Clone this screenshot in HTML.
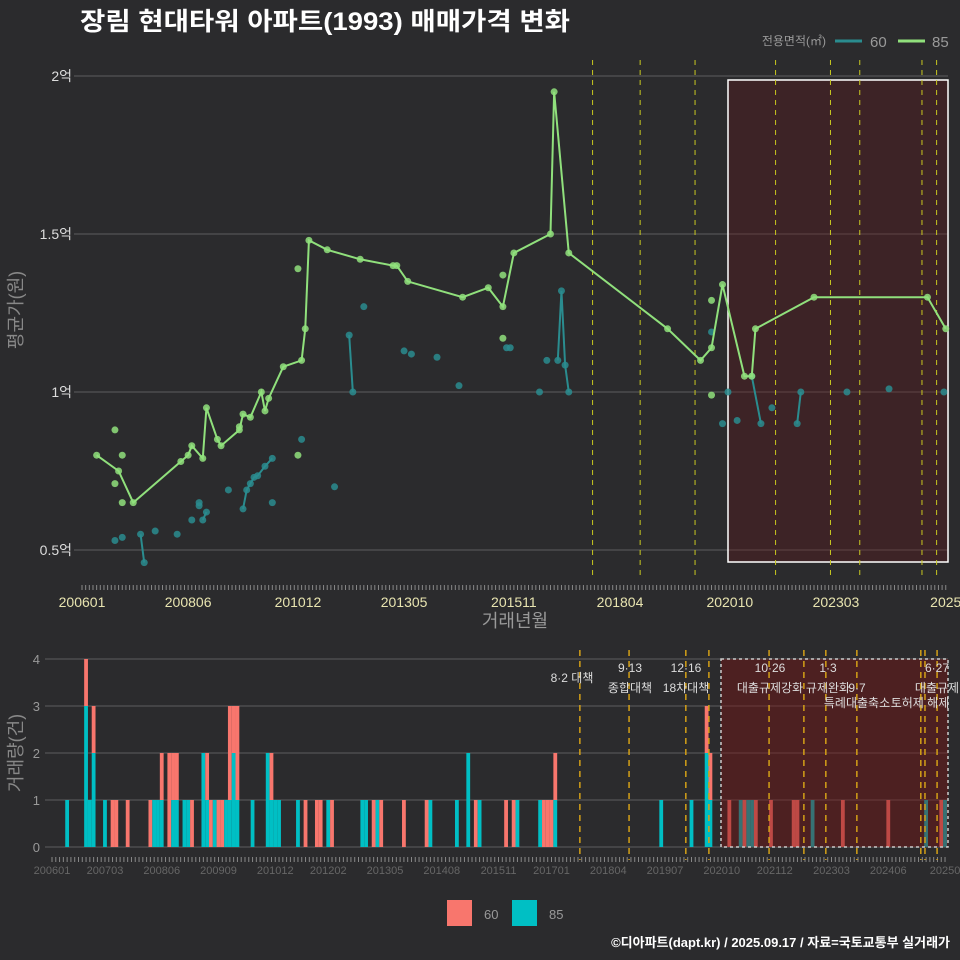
<!DOCTYPE html>
<html><head><meta charset="utf-8"><style>
html,body{margin:0;padding:0;background:#2b2b2d;}
svg{display:block;font-family:"Liberation Sans","Noto Sans CJK KR",sans-serif;}
</style></head><body>
<svg id="chart" width="960" height="960" viewBox="0 0 960 960" xmlns="http://www.w3.org/2000/svg">
<rect x="0" y="0" width="960" height="960" fill="#2b2b2d"/>
<text x="80" y="30" fill="#ffffff" font-size="25" font-weight="bold" textLength="490" lengthAdjust="spacingAndGlyphs">장림 현대타워 아파트(1993) 매매가격 변화</text>
<g>
<text x="826" y="45" fill="#999" font-size="12" text-anchor="end">전용면적(㎡)</text>
<line x1="835" y1="41" x2="862" y2="41" stroke="#2a8c8f" stroke-width="3"/>
<text x="870" y="47" fill="#999" font-size="15">60</text>
<line x1="898" y1="41" x2="925" y2="41" stroke="#90e07c" stroke-width="3"/>
<text x="932" y="47" fill="#999" font-size="15">85</text>
</g>
<g id="topPlot"></g>
<g id="botPlot"></g>
<text x="515" y="627" fill="#999" font-size="18" text-anchor="middle">거래년월</text>
<text transform="translate(22,310) rotate(-90)" fill="#888" font-size="18" text-anchor="middle">평균가(원)</text>
<text transform="translate(22,753) rotate(-90)" fill="#888" font-size="18" text-anchor="middle">거래량(건)</text>
<g>
<rect x="447" y="900" width="25" height="26" fill="#f8766d"/>
<text x="484" y="919" fill="#999" font-size="13">60</text>
<rect x="512" y="900" width="25" height="26" fill="#00bfc4"/>
<text x="549" y="919" fill="#999" font-size="13">85</text>
</g>
<text x="950" y="947" fill="#fff" font-size="13" font-weight="bold" text-anchor="end">©디아파트(dapt.kr) / 2025.09.17 / 자료=국토교통부 실거래가</text>
</svg>
<script>
// ---- price data (month index from 2006-01, price in 억) ----
const line85M=[4,10,14,27,29,30,33,34,37,38,43,44,46,49,50,51,55,60,61,62,67,76,85,86,89,104,111,115,118,128,129,133,160,169,172,175,181,183,184,200,231,236];
const line85P=[0.80,0.75,0.65,0.78,0.80,0.83,0.79,0.95,0.85,0.83,0.88,0.93,0.92,1.00,0.94,0.98,1.08,1.10,1.20,1.48,1.45,1.42,1.40,1.40,1.35,1.30,1.33,1.27,1.44,1.50,1.95,1.44,1.20,1.10,1.14,1.34,1.05,1.05,1.20,1.30,1.30,1.20];
const pts85M=[9,11,9,11,59,59,115,115,172,172,43];
const pts85P=[0.88,0.80,0.71,0.65,1.39,0.80,1.37,1.17,1.29,0.99,0.89];
const seg60M=[[16,17],[33,34],[44,45,46,47,48,50,52],[73,74],[130,131,132,133],[183,185.5],[195.4,196.4]];
const seg60P=[[0.55,0.46],[0.595,0.62],[0.63,0.69,0.71,0.73,0.735,0.765,0.79],[1.18,1.00],[1.10,1.32,1.085,1.00],[1.05,0.90],[0.90,1.00]];
const pts60M=[9,11,20,26,30,32,32,40,52,60,69,77,88,90,97,103,116,117,125,127,175,172,176.5,179,188.5,209,220.5,235.5];
const pts60P=[0.53,0.54,0.56,0.55,0.595,0.65,0.64,0.69,0.65,0.85,0.70,1.27,1.13,1.12,1.11,1.02,1.14,1.14,1.00,1.10,0.90,1.19,1.00,0.91,0.95,1.00,1.01,1.00];
const yTicks=[0.5,1,1.5,2];
const yTickLabels=["0.5억","1억","1.5억","2억"];
const xTickMonths=[0,29,59,88,118,147,177,206,236];
const xTickLabels=["200601","200806","201012","201305","201511","201804","202010","202303","2025"];
const policyTop=[139.5,152.5,167.5,189.5,204.5,212.5,229.5,233.5];
// ---- volume data ----
const barM=[4,9,10,11,14,16,17,20,26,27,28,29,31,32,33,35,36,37,40,41,42,43,44,45,46,47,48,49,53,57,58,59,60,65,67,70,71,73,74,82,83,85,86,87,93,99,100,107,110,112,113,120,122,123,129,130,131,132,133,161,169,173,174,179,182,183,184,185,186,190,196,197,201,209,221,231,235,236];
const bar85=[1,3,1,2,1,0,0,0,0,1,1,1,0,1,1,1,1,0,2,1,0,1,0,0,1,1,2,1,1,2,1,1,1,1,0,0,0,1,0,1,1,0,1,0,0,0,1,1,2,0,1,0,0,1,1,0,0,0,1,1,1,2,1,0,1,0,1,1,0,0,0,0,1,0,0,1,0,1];
const bar60=[0,1,0,1,0,1,1,1,1,0,0,1,2,1,1,0,0,1,0,1,1,0,1,1,0,2,1,2,0,0,1,0,0,0,1,1,1,0,1,0,0,1,0,1,1,1,0,0,0,1,0,1,1,0,0,1,1,1,1,0,0,1,1,1,0,1,0,0,1,1,1,1,0,1,1,0,1,0];
const bTicks=[0,1,2,3,4];
const bxTickMonths=[0,14,29,44,59,73,88,103,118,132,147,162,177,191,206,221,236];
const bxTickLabels=["200601","200703","200806","200909","201012","201202","201305","201408","201511","201701","201804","201907","202010","202112","202303","202406","20250"];
const policyBot=[139.5,152.5,167.5,173.6,189.5,198.7,204.5,212.7,229.6,230.7,233.9];
const notes=[["8·2 대책",572,682],["9·13",630,672],["종합대책",630,692],["12·16",686,672],["18차대책",686,692],["10·26",770,672],["대출규제강화",770,692],["1·3",828,672],["규제완화",828,692],["9·7",857,692],["특례대출축소",857,707],["토허제 해제",920,707],["6·27",937,672],["대출규제",937,692]];

const NS="http://www.w3.org/2000/svg";
function mk(parent,tag,attrs){const e=document.createElementNS(NS,tag);for(const k in attrs)e.setAttribute(k,attrs[k]);parent.appendChild(e);return e;}
const X=m=>82+m*3.66, Y=p=>76+(2-p)*316;
const XB=m=>52+m*3.784, YB=c=>847-c*47;
const gTop=document.getElementById('topPlot'), gBot=document.getElementById('botPlot');

// top grid
yTicks.forEach((v,i)=>{
  let g=mk(gTop,'line',{x1:74,x2:948,y1:Y(v),y2:Y(v),stroke:'#5e5e60','stroke-width':1});
  
  
  let t=mk(gTop,'text',{x:72,y:Y(v)+5,fill:'#ddd','font-size':14,'text-anchor':'end'});
  t.textContent=yTickLabels[i];
  
  
});
let sh=mk(gTop,'rect',{x:728,y:80,width:220,height:482,fill:'rgba(95,20,25,0.35)',stroke:'#fff','stroke-width':1.5});


for(let m=0;m<=236;m+=1){
  let tk=mk(gTop,'line',{x1:X(m),x2:X(m),y1:585,y2:590,stroke:'#888','stroke-width':1});
  
  
}
xTickMonths.forEach((m,i)=>{
  let t=mk(gTop,'text',{x:X(m),y:607,fill:'#e8e4b0','font-size':14,'text-anchor':'middle'});
  t.textContent=xTickLabels[i];
  
  
});
policyTop.forEach(m=>{
  let l=mk(gTop,'line',{x1:X(m),x2:X(m),y1:60,y2:580,stroke:'#c8c820','stroke-width':1,'stroke-dasharray':'5,5'});
  
  
});
// series 60
seg60M.forEach((ms,i)=>{
  let d=ms.map((m,j)=>(j?'L':'M')+X(m)+','+Y(seg60P[i][j])).join('');
  let p=mk(gTop,'path',{d:d,fill:'none',stroke:'#2a8c8f','stroke-width':2});
  
  
  ms.forEach((m,j)=>{
    let c=mk(gTop,'circle',{cx:X(m),cy:Y(seg60P[i][j]),r:3.5,fill:'#2a8c8f','fill-opacity':0.85});
    
    
  });
});
pts60M.forEach((m,i)=>{
  let c=mk(gTop,'circle',{cx:X(m),cy:Y(pts60P[i]),r:3.5,fill:'#2a8c8f','fill-opacity':0.85});
  
  
});
// series 85
{
  let d=line85M.map((m,j)=>(j?'L':'M')+X(m)+','+Y(line85P[j])).join('');
  let p=mk(gTop,'path',{d:d,fill:'none',stroke:'#90e07c','stroke-width':2});
  
  
  line85M.forEach((m,j)=>{
    let c=mk(gTop,'circle',{cx:X(m),cy:Y(line85P[j]),r:3.5,fill:'#90e07c','fill-opacity':0.85});
    
    
  });
  pts85M.forEach((m,i)=>{
    let c=mk(gTop,'circle',{cx:X(m),cy:Y(pts85P[i]),r:3.5,fill:'#90e07c','fill-opacity':0.85});
    
    
  });
}

// bottom
bTicks.forEach(v=>{
  let g=mk(gBot,'line',{x1:45,x2:948,y1:YB(v),y2:YB(v),stroke:'#5e5e60','stroke-width':1});
  
  
  let t=mk(gBot,'text',{x:40,y:YB(v)+5,fill:'#999','font-size':13,'text-anchor':'end'});
  t.textContent=String(v);
  
  
});
for(let m=0;m<=236;m+=1){
  let tk=mk(gBot,'line',{x1:XB(m),x2:XB(m),y1:857,y2:862,stroke:'#888','stroke-width':1});
  
  
}
bxTickMonths.forEach((m,i)=>{
  let t=mk(gBot,'text',{x:XB(m),y:874,fill:'#666','font-size':11,'text-anchor':'middle'});
  t.textContent=bxTickLabels[i];
  
  
});
barM.forEach((m,i)=>{
  const x=XB(m)-1.9;
  if(bar85[i]>0){
    let r=mk(gBot,'rect',{x:x,y:YB(bar85[i]),width:3.8,height:bar85[i]*47,fill:'#00bfc4'});
    
    
  }
  if(bar60[i]>0){
    let r=mk(gBot,'rect',{x:x,y:YB(bar85[i]+bar60[i]),width:3.8,height:bar60[i]*47,fill:'#f8766d'});
    
    
  }
});
let sh2=mk(gBot,'rect',{x:721,y:659,width:227,height:188,fill:'rgba(120,20,20,0.45)',stroke:'#ccc','stroke-width':1.5,'stroke-dasharray':'3,3'});


policyBot.forEach(m=>{
  let l=mk(gBot,'line',{x1:XB(m),x2:XB(m),y1:650,y2:860,stroke:'#d4a017','stroke-width':1.5,'stroke-dasharray':'6,5'});
  
  
});
notes.forEach(n=>{
  let t=mk(gBot,'text',{x:n[1],y:n[2],fill:'#ddd','font-size':12,'text-anchor':'middle'});
  t.textContent=n[0];
  
  
});
</script>
</body></html>
